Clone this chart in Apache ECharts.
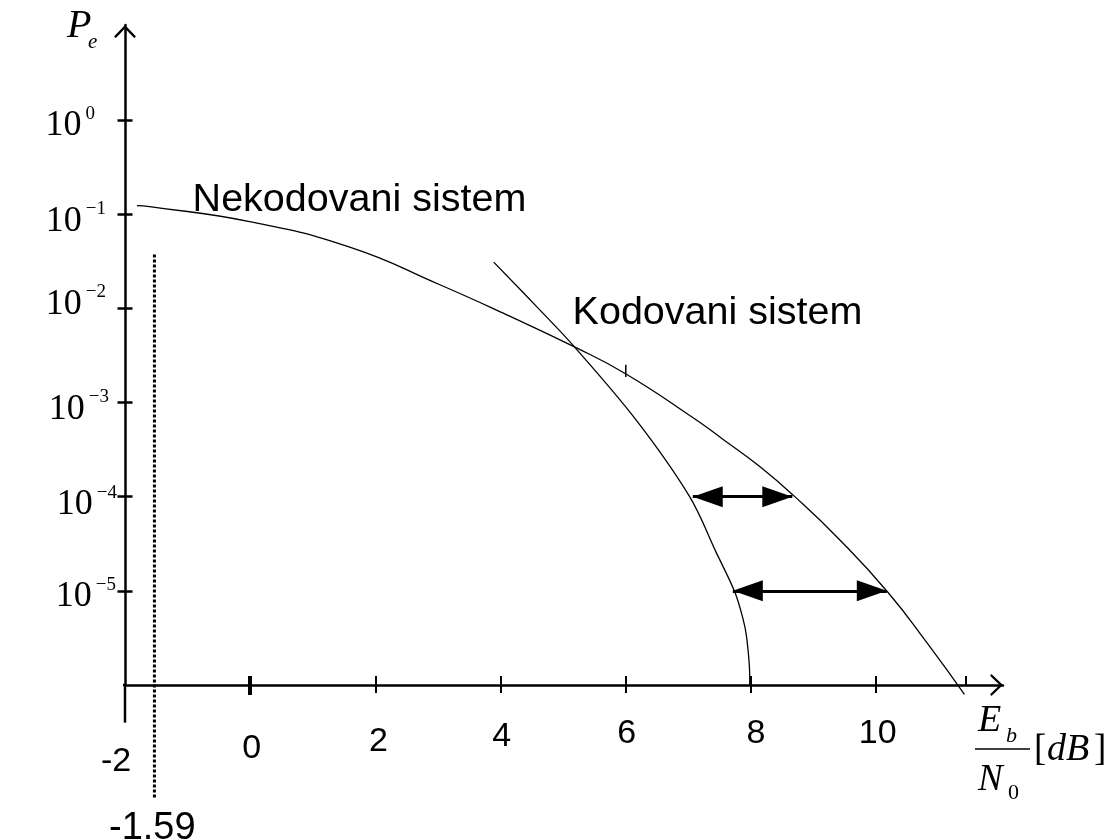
<!DOCTYPE html>
<html>
<head>
<meta charset="utf-8">
<style>
  html, body { margin: 0; padding: 0; background: #fff; }
  #chart { width: 1115px; height: 840px; }
</style>
</head>
<body>
<div id="chart"></div>
<script src="https://cdn.jsdelivr.net/npm/echarts@6/dist/echarts.min.js"></script>
<script>
// x = Eb/N0 [dB], y = log10(Pe)
const uncodedX = [-1.81, -1.61, -0.01, 1.59, 3.03, 4.10, 5.18, 6.01, 7.07, 7.55, 8.14, 8.70, 9.42, 10.18, 10.81, 11.41]
const uncodedY = [-0.91, -0.92, -1.08, -1.35, -1.75, -2.07, -2.41, -2.70, -3.16, -3.39, -3.68, -4.00, -4.46, -5.01, -5.55, -6.10]
const codedX = [3.89, 4.63, 5.18, 6.17, 7.02, 7.45, 7.74, 7.87, 7.93, 7.98, 7.98]
const codedY = [-1.51, -2.02, -2.41, -3.19, -4.00, -4.60, -5.01, -5.29, -5.49, -5.91, -6.00]
const xTickLabels = [-2, 0, 2, 4, 6, 8, 10]
const xTicks = [0, 2, 4, 6, 8, 10]
const xTicksUpper = [0, 2, 4, 6, 8, 10, 11.43]
const xTickBold = [0]
const yTickExp = [0, -1, -2, -3, -4, -5]
// coding gain arrows
const gainLevel = [-4, -5]
const gainFrom = [7.07, 7.71]
const gainTo = [8.66, 10.17]
// Shannon limit line (labelled -1.59)
const limitX = -1.53
const limitY = [-1.43, -7.2]
// stray tick mark on the uncoded curve
const strayX = 6.0
const strayY = [-2.60, -2.73]
// axis ranges; the axes cross at (-2, 1e-6)
const xMin = -2, xMax = 12.026, xFar = -3.80
const yMin = -6, yMax = 1.008, yFar = -6.40

const SANS = '"Liberation Sans", Arial, sans-serif'
const SERIF = '"Liberation Serif", "Times New Roman", serif'
const arrowHead = 'path://M12,0L24,12.5L22,14L12,3.6L2,14L0,12.5Z'
const axisStroke = { color: '#000', width: 2.5 }

// label nudges (padding) per tick label
const xLabelPad = [[28, 18, 0, 0], [15, 0, 0, 3], [8, 0, 0, 6], [3, 0, 0, 2], [0, 0, 0, 2], [0, 0, 0, 10], [0, 0, 0, 3]]
const yBasePad = [[12, 0, 0, 0], [14, 0, 0, 0], [0, 0, 8, 0], [14, 0, 0, 0], [16, 0, 0, 0], [12, 0, 0, 0]]
const yExpPad = [[0, 22, 12, 4], [0, 11, 10, 4], [0, 11, 32, 4], [0, 8, 10, 4], [0, 0, 8, 4], [0, 1, 12, 4]]

const xRich = {}
xTickLabels.forEach((v, i) => {
  xRich['x' + i] = { fontSize: 34, fontFamily: SANS, color: '#000', padding: xLabelPad[i] }
})
const yRich = {}
yTickExp.forEach((v, i) => {
  yRich['b' + i] = { fontSize: 36, fontFamily: SERIF, color: '#000', lineHeight: 38, padding: yBasePad[i] }
  yRich['e' + i] = { fontSize: 19, fontFamily: SERIF, color: '#000', lineHeight: 10, padding: yExpPad[i] }
})

const zip = (xs, ys) => xs.map((x, i) => [x, ys[i]])
const curveLine = { color: '#000', width: 1.3 }

// extra x axis that only carries ticks
const tickAxis = (values, inside, width, length) => ({
  type: 'value', min: xMin, max: xMax, position: 'bottom',
  axisLine: { show: false, onZero: false },
  axisTick: { show: true, inside: inside, customValues: values, length: length, lineStyle: { color: '#000', width: width } },
  axisLabel: { show: false },
  splitLine: { show: false }
})

const chart = echarts.init(document.getElementById('chart'))
chart.setOption({
  animation: false,
  backgroundColor: '#fff',
  grid: { left: 125, right: 112, top: 25, bottom: 155, containLabel: false, outerBoundsMode: 'none' },
  xAxis: [
    {
      type: 'value', min: xMin, max: xMax, position: 'bottom',
      axisLine: { onZero: false, lineStyle: axisStroke, symbol: ['none', arrowHead], symbolSize: [22, 13], symbolOffset: [0, -6.5] },
      axisTick: { show: true, customValues: xTicks, length: 8, lineStyle: { color: '#000', width: 2 } },
      axisLabel: {
        customValues: xTickLabels, margin: 32, color: '#000',
        formatter: v => '{x' + xTickLabels.indexOf(v) + '|' + v + '}',
        rich: xRich
      },
      splitLine: { show: false }
    },
    tickAxis(xTicksUpper, true, 2, 9),
    tickAxis(xTickBold, true, 4, 9),
    tickAxis(xTickBold, false, 4, 10)
  ],
  yAxis: [
    {
      type: 'value', min: yMin, max: yMax, position: 'left',
      axisLine: { onZero: false, lineStyle: axisStroke, symbol: ['none', arrowHead], symbolSize: [22, 13], symbolOffset: [0, -6.5] },
      axisTick: { show: true, customValues: yTickExp, length: 7.5, lineStyle: { color: '#000', width: 2.5 } },
      axisLabel: {
        customValues: yTickExp, margin: 8,
        formatter: v => {
          const i = yTickExp.indexOf(v)
          return '{b' + i + '|10}{e' + i + '|' + (v < 0 ? '\u2212' + (-v) : v) + '}'
        },
        rich: yRich
      },
      splitLine: { show: false }
    },
    {
      type: 'value', min: yMin, max: yMax, position: 'left',
      axisLine: { show: false, onZero: false },
      axisTick: { show: true, inside: true, customValues: yTickExp, length: 7.5, lineStyle: { color: '#000', width: 2.5 } },
      axisLabel: { show: false },
      splitLine: { show: false }
    }
  ],
  series: [
    {
      name: 'Nekodovani sistem', type: 'line', xAxisIndex: 0, yAxisIndex: 0,
      data: zip(uncodedX, uncodedY), symbol: 'none', smooth: 0.5, clip: false,
      lineStyle: curveLine, silent: true,
      markPoint: {
        symbol: 'circle', symbolSize: 0, silent: true,
        label: { show: true, position: 'right', distance: 0, formatter: p => p.name, fontSize: 39.5, fontFamily: SANS, color: '#000' },
        data: [{ name: 'Nekodovani sistem', coord: [-0.92, -0.85] }]
      },
      markLine: {
        silent: true, symbol: ['triangle', 'triangle'], symbolSize: [21, 30], symbolOffset: [[0, 15], [0, 15]],
        lineStyle: { color: '#000', width: 3, type: 'solid' },
        label: { show: false },
        data: gainLevel.map((y, i) => [{ coord: [gainFrom[i], y] }, { coord: [gainTo[i], y] }])
      }
    },
    {
      name: 'Kodovani sistem', type: 'line', xAxisIndex: 0, yAxisIndex: 0,
      data: zip(codedX, codedY), symbol: 'none', smooth: 0.35, clip: false,
      lineStyle: curveLine, silent: true,
      markPoint: {
        symbol: 'circle', symbolSize: 0, silent: true,
        label: { show: true, position: 'right', distance: 0, formatter: p => p.name, fontSize: 39.5, fontFamily: SANS, color: '#000' },
        data: [{ name: 'Kodovani sistem', coord: [5.15, -2.05] }]
      }
    },
    {
      type: 'line', xAxisIndex: 0, yAxisIndex: 0, clip: false, silent: true, symbol: 'none',
      data: limitY.map(y => [limitX, y]),
      lineStyle: { color: '#000', width: 3, type: [3, 2] }
    },
    {
      type: 'line', xAxisIndex: 0, yAxisIndex: 0, silent: true, symbol: 'none',
      data: strayY.map(y => [strayX, y]),
      lineStyle: { color: '#000', width: 1.5 }
    },
    // axis lines continue past the crossing point
    {
      type: 'line', xAxisIndex: 0, yAxisIndex: 0, clip: false, silent: true, symbol: 'none',
      data: [[xFar, yMin], [xMin, yMin]], lineStyle: axisStroke
    },
    {
      type: 'line', xAxisIndex: 0, yAxisIndex: 0, clip: false, silent: true, symbol: 'none',
      data: [[xMin, yMin], [xMin, yFar]], lineStyle: axisStroke
    }
  ],
  graphic: [
    { type: 'text', x: 67, y: 26, silent: true, style: { text: 'P', font: 'italic 40px ' + SERIF, fill: '#000', verticalAlign: 'middle', textVerticalAlign: 'middle' } },
    { type: 'text', x: 88, y: 42, silent: true, style: { text: 'e', font: 'italic 21px ' + SERIF, fill: '#000', verticalAlign: 'middle', textVerticalAlign: 'middle' } },
    { type: 'text', x: 978, y: 721, silent: true, style: { text: 'E', font: 'italic 38px ' + SERIF, fill: '#000', verticalAlign: 'middle', textVerticalAlign: 'middle' } },
    { type: 'text', x: 1006, y: 736, silent: true, style: { text: 'b', font: 'italic 22px ' + SERIF, fill: '#000', verticalAlign: 'middle', textVerticalAlign: 'middle' } },
    { type: 'line', silent: true, shape: { x1: 975, y1: 749, x2: 1030, y2: 749 }, style: { stroke: '#000', lineWidth: 1.5 } },
    { type: 'text', x: 978, y: 780, silent: true, style: { text: 'N', font: 'italic 37px ' + SERIF, fill: '#000', verticalAlign: 'middle', textVerticalAlign: 'middle' } },
    { type: 'text', x: 1008, y: 793, silent: true, style: { text: '0', font: '22px ' + SERIF, fill: '#000', verticalAlign: 'middle', textVerticalAlign: 'middle' } },
    { type: 'text', x: 1034, y: 750, silent: true, style: { text: '[', font: '37px ' + SERIF, fill: '#000', verticalAlign: 'middle', textVerticalAlign: 'middle' } },
    { type: 'text', x: 1047, y: 750, silent: true, style: { text: 'dB', font: 'italic 38px ' + SERIF, fill: '#000', verticalAlign: 'middle', textVerticalAlign: 'middle' } },
    { type: 'text', x: 1094, y: 750, silent: true, style: { text: ']', font: '37px ' + SERIF, fill: '#000', verticalAlign: 'middle', textVerticalAlign: 'middle' } },
    { type: 'text', x: 109, y: 829, silent: true, style: { text: '-1.59', font: '38px ' + SANS, fill: '#000', verticalAlign: 'middle', textVerticalAlign: 'middle' } }
  ]
})
</script>
</body>
</html>
